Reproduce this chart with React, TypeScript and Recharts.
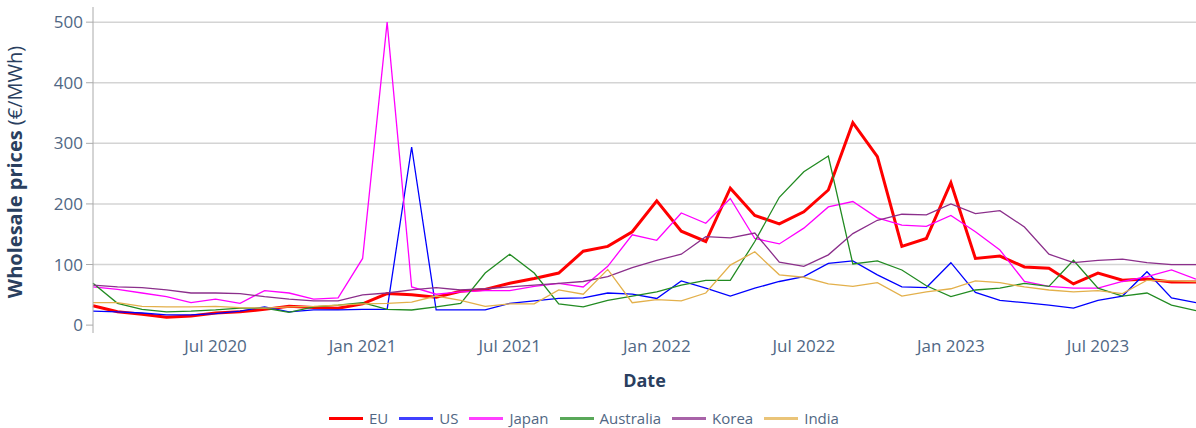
import { CartesianGrid, Line, LineChart, XAxis, YAxis } from "recharts";

// month-end observations, Jan 2020 .. Oct 2023
const months = [
  "2020-01", "2020-02", "2020-03", "2020-04", "2020-05", "2020-06",
  "2020-07", "2020-08", "2020-09", "2020-10", "2020-11", "2020-12",
  "2021-01", "2021-02", "2021-03", "2021-04", "2021-05", "2021-06",
  "2021-07", "2021-08", "2021-09", "2021-10", "2021-11", "2021-12",
  "2022-01", "2022-02", "2022-03", "2022-04", "2022-05", "2022-06",
  "2022-07", "2022-08", "2022-09", "2022-10", "2022-11", "2022-12",
  "2023-01", "2023-02", "2023-03", "2023-04", "2023-05", "2023-06",
  "2023-07", "2023-08", "2023-09", "2023-10",
];

const eu = [
  32, 22, 18, 13, 15, 20, 22, 26, 31, 29, 28, 35,
  52, 50, 46, 56, 59, 69, 77, 86, 122, 130, 154, 205,
  155, 138, 226, 181, 167, 187, 223, 334, 278, 130, 143, 235,
  110, 114, 96, 94, 68, 86, 74, 76, 71, 71,
];
const us = [
  23, 22, 20, 17, 17, 19, 23, 30, 22, 25, 25, 26,
  26, 294, 25, 25, 25, 36, 40, 44, 45, 53, 51, 44,
  73, 61, 48, 61, 72, 80, 102, 106, 83, 63, 62, 103,
  54, 41, 37, 33, 28, 41, 48, 88, 45, 37,
];
const japan = [
  63, 59, 53, 47, 37, 43, 36, 57, 53, 43, 45, 110,
  500, 63, 51, 55, 57, 57, 64, 69, 63, 97, 149, 140,
  185, 168, 209, 143, 134, 160, 195, 204, 177, 165, 163, 181,
  154, 124, 72, 64, 61, 61, 72, 80, 91, 76,
];
const australia = [
  69, 36, 26, 22, 23, 25, 28, 28, 21, 30, 33, 37,
  26, 25, 30, 36, 86, 117, 86, 35, 30, 41, 48, 55,
  66, 74, 74, 138, 211, 253, 279, 101, 106, 91, 65, 47,
  58, 61, 69, 64, 107, 61, 48, 53, 33, 24,
];
const korea = [
  66, 63, 62, 58, 53, 53, 52, 47, 43, 40, 40, 50,
  53, 58, 62, 58, 60, 63, 66, 69, 72, 80, 95, 107,
  117, 146, 144, 152, 104, 97, 116, 151, 173, 183, 182, 200,
  184, 189, 162, 117, 103, 107, 109, 103, 100, 100,
];
const india = [
  37, 37, 31, 30, 30, 31, 29, 28, 30, 31, 33, 35,
  36, 38, 48, 41, 31, 35, 35, 58, 51, 92, 37, 42,
  40, 53, 99, 121, 83, 79, 68, 64, 70, 48, 55, 60,
  73, 70, 63, 58, 55, 57, 52, 74, 73, 72,
];

const xTicks = [5, 11, 17, 23, 29, 35, 41];
const xTickLabels = ["Jul 2020", "Jan 2021", "Jul 2021", "Jan 2022", "Jul 2022", "Jan 2023", "Jul 2023"];
const yTicks = [0, 100, 200, 300, 400, 500];

const series = [
  { key: "EU", color: "#ff0000", width: 3 },
  { key: "US", color: "#0000ff", width: 1.3 },
  { key: "Japan", color: "#ff00ff", width: 1.3 },
  { key: "Australia", color: "#228b22", width: 1.3 },
  { key: "Korea", color: "#8b2f8b", width: 1.3 },
  { key: "India", color: "#e3b04b", width: 1.3 },
];

const data = months.map((m, i) => ({
  idx: i,
  month: m,
  EU: eu[i],
  US: us[i],
  Japan: japan[i],
  Australia: australia[i],
  Korea: korea[i],
  India: india[i],
}));

const FONT = '"Open Sans", verdana, arial, sans-serif';
const TICK_COLOR = "#506784";
const TITLE_COLOR = "#2a3f5f";

function YTitle() {
  return (
    <text
      transform="rotate(-90, 22, 172)"
      x={22}
      y={172}
      textAnchor="middle"
      fontFamily={FONT}
      fontSize={20}
      fill={TITLE_COLOR}
    >
      <tspan fontWeight="bold">Wholesale prices </tspan>
      <tspan>(€/MWh)</tspan>
    </text>
  );
}

function LegendRow() {
  return (
    <div
      style={{
        position: "absolute",
        left: 329,
        top: 408,
        display: "flex",
        alignItems: "center",
        fontFamily: FONT,
        fontSize: 15,
        color: TICK_COLOR,
      }}
    >
      {series.map((s) => (
        <div key={s.key} style={{ display: "flex", alignItems: "center", marginRight: 11 }}>
          <div style={{ width: 34, height: 3, background: s.color, opacity: s.key === "EU" ? 1 : 0.75, marginRight: 6 }} />
          <span>{s.key}</span>
        </div>
      ))}
    </div>
  );
}

export default function App() {
  return (
    <div style={{ position: "absolute", left: 0, top: 0, width: 1196, height: 428, background: "#fff" }}>
      <LineChart width={1196} height={428} data={data} margin={{ top: 7, right: 0, bottom: 0, left: 0 }}>
        <CartesianGrid vertical={false} horizontalValues={[100, 200, 300, 400, 500]} stroke="#d4d4d4" strokeWidth={1.5} />
        <XAxis
          dataKey="idx"
          type="number"
          domain={[0, 45]}
          ticks={xTicks}
          tickFormatter={(v: number) => xTickLabels[xTicks.indexOf(v)] ?? ""}
          axisLine={false}
          tickLine={false}
          tickSize={5}
          tickMargin={2}
          height={95}
          tick={{ fill: TICK_COLOR, fontSize: 17, fontFamily: FONT }}
          label={{ value: "Date", position: "insideTop", dy: 36, fill: TITLE_COLOR, fontSize: 18, fontWeight: "bold", fontFamily: FONT }}
        />
        <YAxis
          type="number"
          domain={[-13, 525]}
          allowDataOverflow
          ticks={yTicks}
          width={93}
          stroke="#aaaaaa"
          tickSize={7}
          tickMargin={3}
          tick={{ fill: TICK_COLOR, fontSize: 17, fontFamily: FONT }}
          label={<YTitle />}
        />
        {series.map((s) => (
          <Line
            key={s.key}
            type="linear"
            dataKey={s.key}
            stroke={s.color}
            strokeWidth={s.width}
            dot={false}
            activeDot={false}
            isAnimationActive={false}
          />
        ))}
      </LineChart>
      <LegendRow />
    </div>
  );
}
